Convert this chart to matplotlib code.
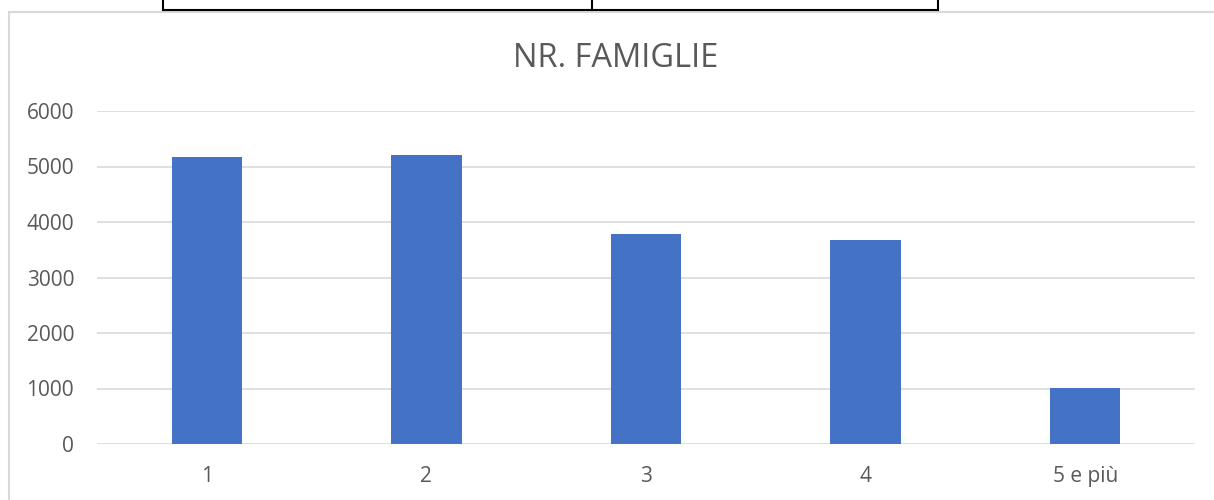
import matplotlib.pyplot as plt
from matplotlib.patches import Rectangle
from matplotlib.lines import Line2D

categories = ["1", "2", "3", "4", "5 e più"]
famiglie = [5170, 5205, 3785, 3675, 1010]
y_ticks = [0, 1000, 2000, 3000, 4000, 5000, 6000]

W, H = 1214, 500
fig = plt.figure(figsize=(W / 100, H / 100), dpi=100)
plt.rcParams['font.family'] = ['Open Sans', 'DejaVu Sans']

text_col = "#595959"
grid_col = "#D9D9D9"

# chart frame
fig.patches.append(Rectangle((9 / W, -0.1), 1.2, 1.1 - 12 / H, transform=fig.transFigure,
                             fill=False, edgecolor=grid_col, linewidth=1.5))
# table borders above the chart
for seg in [((163, 938), (10, 10)), ((163, 163), (0, 10)), ((592, 592), (0, 10)), ((938, 938), (0, 10))]:
    xs = [v / W for v in seg[0]]
    ys = [1 - v / H for v in seg[1]]
    fig.lines.append(Line2D(xs, ys, transform=fig.transFigure, color="black", linewidth=1.5))

ax = fig.add_axes([97 / W, 1 - 444 / H, (1195 - 97) / W, (444 - 111) / H])
x = range(len(categories))
ax.bar(x, famiglie, width=0.32, color="#4472C4", zorder=3)
ax.set_xlim(-0.5, len(categories) - 0.5)
ax.set_ylim(0, 6000)
ax.set_yticks(y_ticks)
ax.set_xticks(list(x))
ax.set_xticklabels(categories)
ax.grid(axis="y", color=grid_col, linewidth=1.2, zorder=0)
for s in ax.spines.values():
    s.set_visible(False)
ax.tick_params(axis="both", length=0, labelsize=15, labelcolor=text_col)
ax.tick_params(axis="y", pad=16.5)
ax.tick_params(axis="x", pad=16)
ax.set_axisbelow(True)

fig.text(616 / W, 1 - 67 / H, "NR. FAMIGLIE", ha="center", va="baseline",
         fontsize=23.5, color=text_col)

fig.savefig("out.png", dpi=100)
